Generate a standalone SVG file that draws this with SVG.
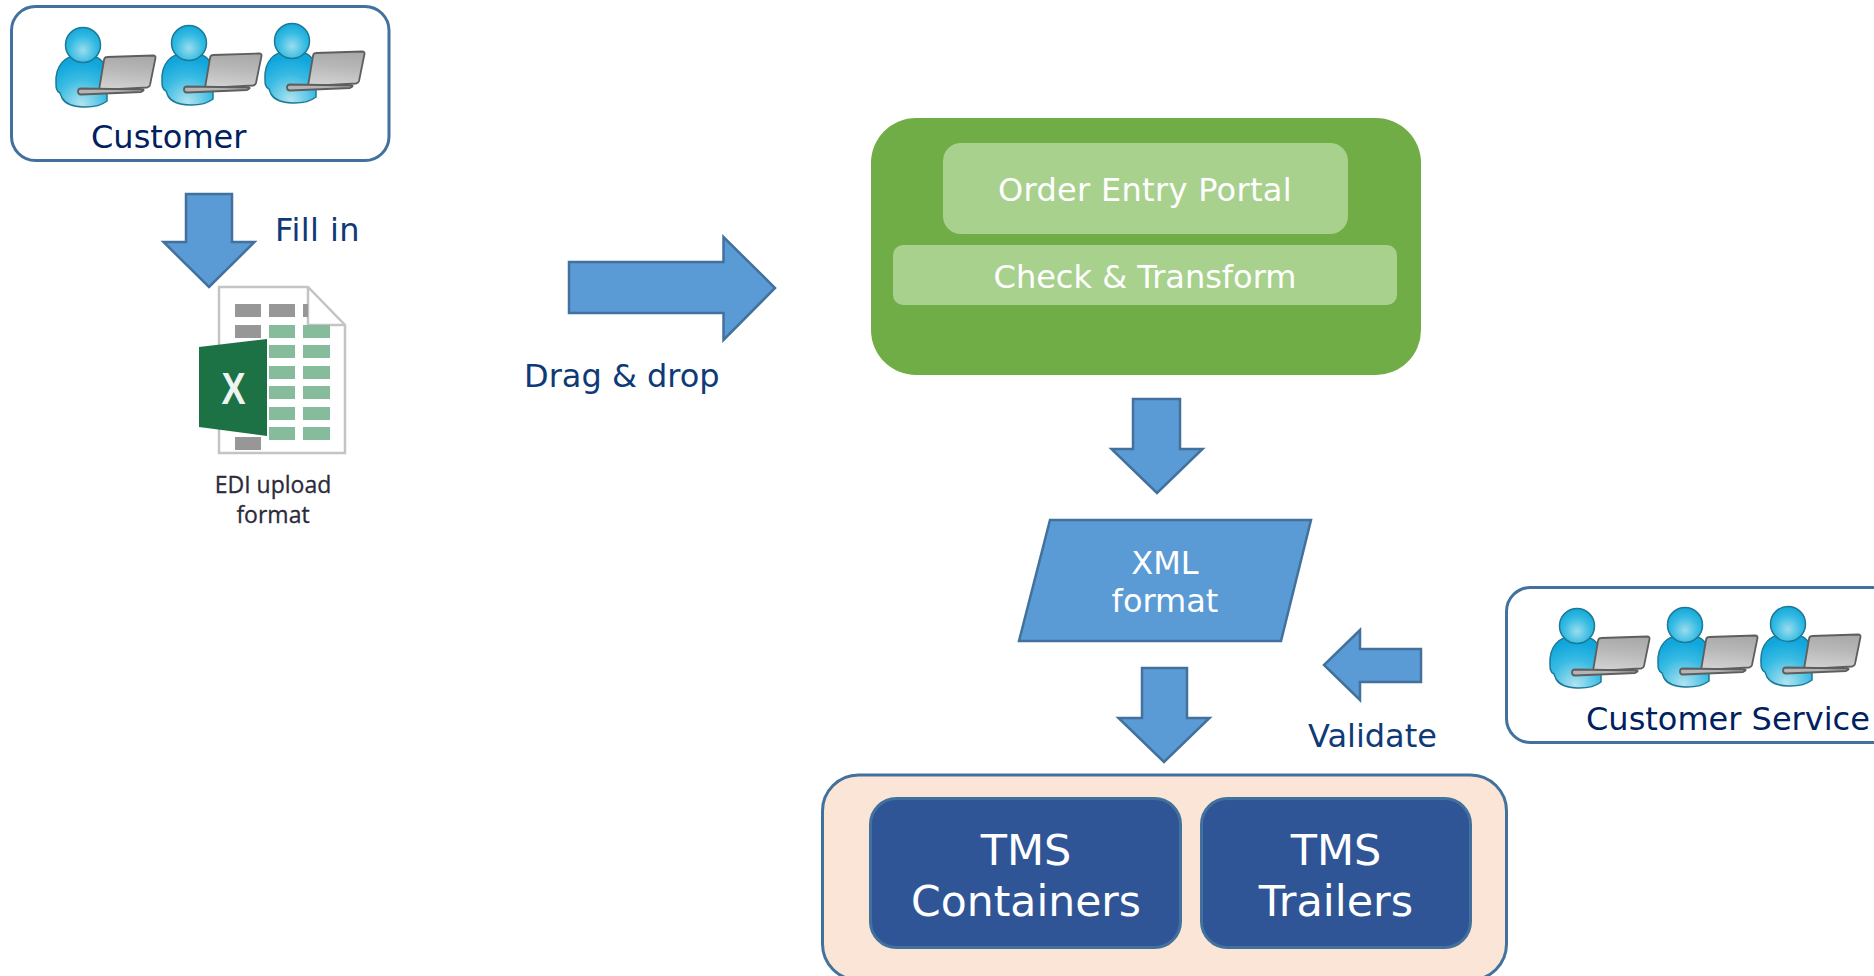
<svg xmlns="http://www.w3.org/2000/svg" xmlns:xlink="http://www.w3.org/1999/xlink" width="1874" height="976" viewBox="0 0 1874 976">
<style>
text{font-family:"DejaVu Sans",Verdana,sans-serif}
.lbl{fill:#002060;font-size:32px}
.lblb{fill:#0f3a78;font-size:32px}
.w{fill:#fff;text-anchor:middle}
.pale{fill:#a9d18e}
.arrow{fill:#5b9bd5;stroke:#41719c;stroke-width:2.500}
.frame{fill:#fff;stroke:#41719c;stroke-width:3}
.tms{fill:#2f5597;stroke:#41719c;stroke-width:3}
.g{fill:#979797}.c{fill:#86bc9b}
.edi{font-family:"Open Sans",sans-serif;font-size:23px;fill:#2b2b3b;stroke:#2b2b3b;stroke-width:.3;text-anchor:middle}
</style>
<defs>
<filter id="soft" x="-5%" y="-5%" width="110%" height="110%"><feGaussianBlur stdDeviation="0.600"/></filter>
<radialGradient id="skin" cx="0.5" cy="0.65" r="0.65"><stop offset="0" stop-color="#9adcee"/><stop offset="0.6" stop-color="#35bbe3"/><stop offset="1" stop-color="#14a8da"/></radialGradient>
<radialGradient id="bodyg" cx="0.5" cy="0.95" r="0.85"><stop offset="0" stop-color="#b2e4f0"/><stop offset="0.6" stop-color="#38bbe3"/><stop offset="1" stop-color="#10a6dc"/></radialGradient>
<linearGradient id="lap" x1="0.6" y1="0" x2="0.45" y2="1"><stop offset="0" stop-color="#a8a8a8"/><stop offset="0.45" stop-color="#b8b8b8"/><stop offset="1" stop-color="#d2d2d2"/></linearGradient>
<g id="user">
<path d="M-27 38C-28 20-17 10-5 11L8 11C17 12 23 18 24 30L24 56C14 64-14 65-21 53L-23 48C-27 46-27 42-27 38Z" fill="url(#bodyg)" stroke="#1d7a96" stroke-width="1.500"/>
<circle cx="0" cy="0" r="17.500" fill="url(#skin)" stroke="#1d7a96" stroke-width="1.500"/>
<path d="M24 12L70 10.500Q73 10.500 72.500 13L67 40Q66.500 42 64 42.500L19 45Q16 45 16.500 42L21 15Q21.500 12 24 12Z" fill="url(#lap)" stroke="#5e5e5e" stroke-width="1.800"/>
<path d="M-2 43.500L60 44.500Q62 45 58 47L-2 49.500Q-5 49.500-5 46.500Q-5 43.500-2 43.500Z" fill="#b5b5b5" stroke="#5e5e5e" stroke-width="1.800"/>
</g>
</defs>
<rect width="1874" height="976" fill="#fff"/>
<g id="customer">
<rect class="frame" x="11.500" y="6.500" width="377.500" height="154" rx="24"/>
<use href="#user" x="83" y="45"/><use href="#user" x="189" y="43"/><use href="#user" x="292" y="41"/>
<text class="lbl" x="91" y="148">Customer</text>
</g>
<g id="excel">
<g filter="url(#soft)">
<path d="M219 287H308L345 325V453H219Z" fill="#fff" stroke="#c4c4c4" stroke-width="2.500"/>
<path d="M308 287V325H345" fill="none" stroke="#c4c4c4" stroke-width="2.500"/>
<g class="g"><rect x="235" y="304" width="26" height="13"/><rect x="269" y="304" width="26" height="13"/><rect x="303" y="304" width="5" height="13"/><rect x="235" y="325" width="26" height="13"/><rect x="235" y="437" width="26" height="13"/></g>
<g class="c"><rect x="269" y="325" width="26" height="13"/><rect x="303" y="325" width="27" height="13"/><rect x="269" y="345" width="26" height="13"/><rect x="303" y="345" width="27" height="13"/><rect x="269" y="366" width="26" height="13"/><rect x="303" y="366" width="27" height="13"/><rect x="269" y="386" width="26" height="13"/><rect x="303" y="386" width="27" height="13"/><rect x="269" y="407" width="26" height="13"/><rect x="303" y="407" width="27" height="13"/><rect x="269" y="427" width="26" height="13"/><rect x="303" y="427" width="27" height="13"/></g>
<path d="M199 347L267 339V436L199 427Z" fill="#1e7145"/>
</g>
<text transform="translate(233.500 403.500) scale(.82 1)" text-anchor="middle" style="font-family:'Liberation Sans',sans-serif;font-weight:bold;font-size:44px" fill="#eef5f1">X</text>
<text class="edi" x="273" y="492.500">EDI upload</text>
<text class="edi" x="273" y="522.500">format</text>
</g>
<g id="connectors">
<path class="arrow" d="M186 194H232V242H254.500L209 287L163.500 242H186Z"/>
<path class="arrow" d="M569 262H723.500V237L775 288L723.500 340V313H569Z"/>
<path class="arrow" d="M1133 399H1180V449H1202.500L1157 493L1111.500 449H1133Z"/>
<path class="arrow" d="M1142 668H1187V718H1209.500L1164 762L1118.500 718H1142Z"/>
<path class="arrow" d="M1421 649H1360V630L1324 665L1360 700V682H1421Z"/>
</g>
<g id="labels">
<text class="lblb" x="275" y="241" letter-spacing=".4">Fill in</text>
<text class="lblb" x="524" y="387">Drag &amp; drop</text>
<text class="lblb" x="1308" y="747">Validate</text>
</g>
<g id="portal">
<rect x="871" y="118" width="550" height="257" rx="45" fill="#70ad47"/>
<rect class="pale" x="943" y="143" width="405" height="91" rx="18"/>
<rect class="pale" x="893" y="245" width="504" height="60" rx="10"/>
<text class="w" x="1145" y="201" font-size="32" letter-spacing=".3">Order Entry Portal</text>
<text class="w" x="1145" y="288" font-size="32">Check &amp; Transform</text>
</g>
<g id="xml">
<path class="arrow" d="M1050 520H1311L1281 641H1019Z"/>
<text class="w" x="1165" y="574" font-size="32">XML</text>
<text class="w" x="1165" y="612" font-size="32">format</text>
</g>
<g id="service">
<rect class="frame" x="1506.500" y="587.500" width="400" height="155" rx="24"/>
<use href="#user" x="1577" y="626"/><use href="#user" x="1685" y="625"/><use href="#user" x="1788" y="624"/>
<text class="lbl" x="1586" y="730">Customer Service</text>
</g>
<g id="tms">
<rect x="822.500" y="775" width="684" height="205" rx="36" fill="#fbe5d6" stroke="#41719c" stroke-width="3"/>
<g id="containers"><rect class="tms" x="870.500" y="798.500" width="310" height="149" rx="26"/>
<text class="w" x="1026" y="865" font-size="43">TMS</text><text class="w" x="1026" y="916" font-size="42.500">Containers</text></g>
<g id="trailers"><rect class="tms" x="1201.500" y="798.500" width="269" height="149" rx="26"/>
<text class="w" x="1336" y="865" font-size="43">TMS</text><text class="w" x="1336" y="916" font-size="43">Trailers</text></g>
</g>
</svg>
